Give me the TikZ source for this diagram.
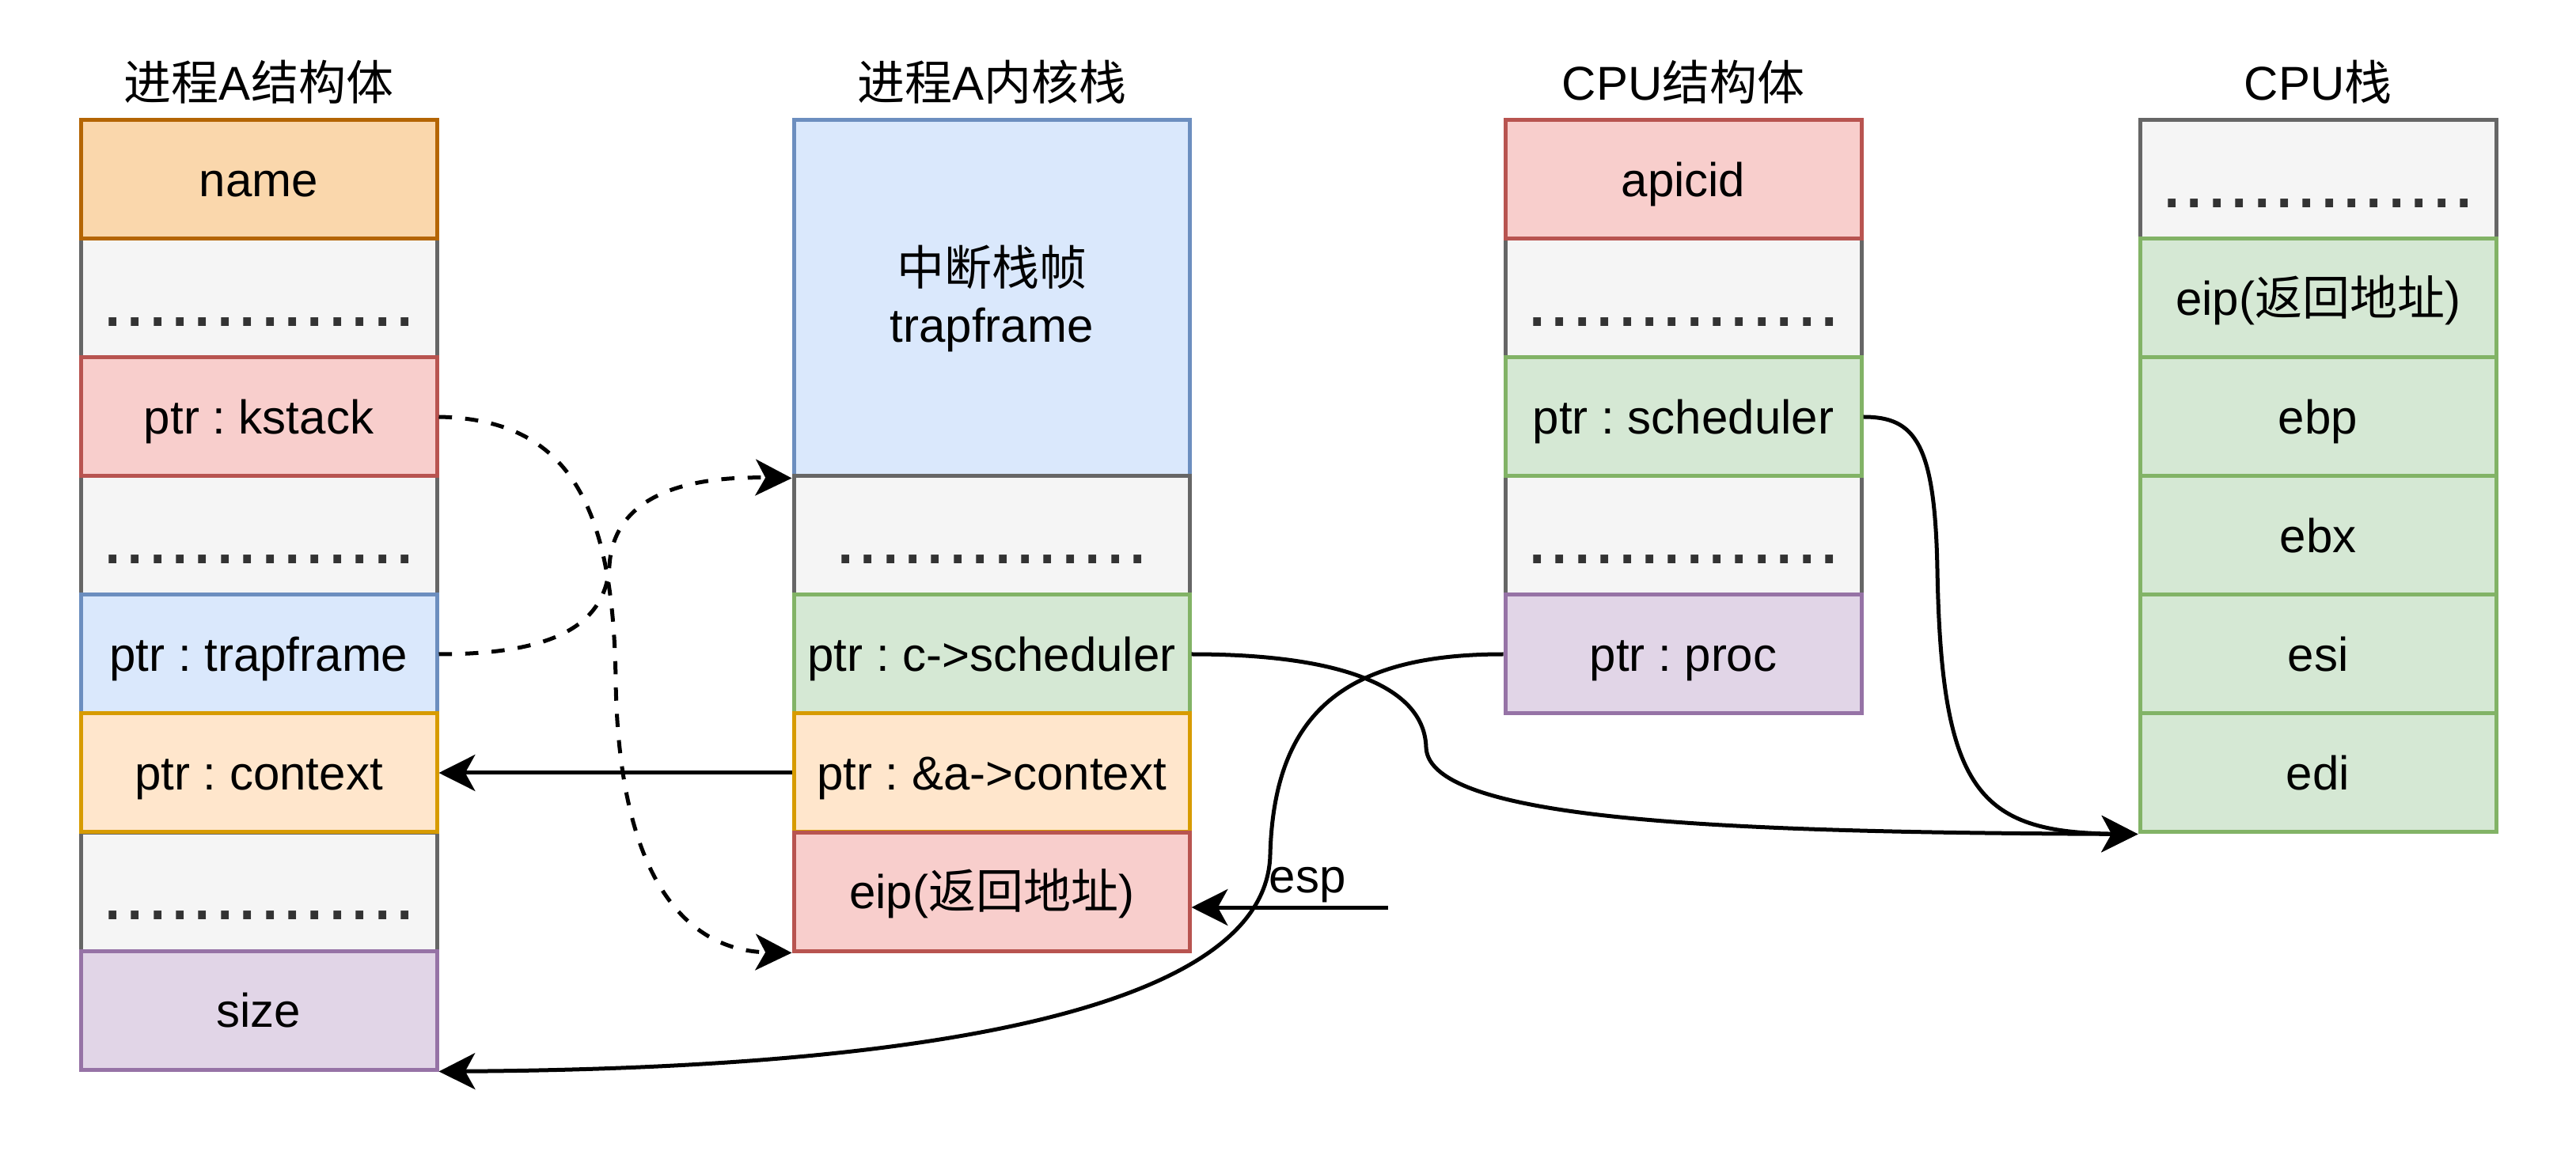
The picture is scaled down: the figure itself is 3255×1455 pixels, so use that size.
\documentclass[tikz,border=0pt]{standalone}
\usepackage{fontspec}
\setmainfont{Liberation Sans}
\newfontfamily\cjk{Noto Sans CJK SC}
\usetikzlibrary{arrows.meta}
\frenchspacing
\definecolor{oF}{HTML}{FAD7AC}\definecolor{oS}{HTML}{B46504}
\definecolor{gF}{HTML}{F5F5F5}\definecolor{gS}{HTML}{666666}
\definecolor{rF}{HTML}{F8CECC}\definecolor{rS}{HTML}{B85450}
\definecolor{bF}{HTML}{DAE8FC}\definecolor{bS}{HTML}{6C8EBF}
\definecolor{lF}{HTML}{FFE6CC}\definecolor{lS}{HTML}{D79B00}
\definecolor{pF}{HTML}{E1D5E7}\definecolor{pS}{HTML}{9673A6}
\definecolor{nF}{HTML}{D5E8D4}\definecolor{nS}{HTML}{82B366}
\definecolor{dotC}{HTML}{333333}
\tikzset{
  cellbox/.style={draw, line width=1.2pt, minimum width=108pt, minimum height=36pt, inner sep=0pt,
    font=\fontsize{14.4pt}{17.28pt}\selectfont, text height=13.5pt, text depth=3.05pt},
  widebox/.style={cellbox, minimum width=120pt},
  dotbox/.style={fill=gF, draw=gS, text=dotC, font=\fontsize{24.5pt}{29.4pt}\selectfont, text height=22pt, text depth=5.09pt},
  obox/.style={fill=oF, draw=oS},
  rbox/.style={fill=rF, draw=rS},
  bbox/.style={fill=bF, draw=bS},
  lbox/.style={fill=lF, draw=lS},
  pbox/.style={fill=pF, draw=pS},
  nbox/.style={fill=nF, draw=nS},
  titlelbl/.style={font=\fontsize{14.4pt}{17.28pt}\selectfont, inner sep=0pt},
  conn/.style={line width=1.2pt, -{Stealth[length=11pt, width=11pt, inset=3pt]}},
  dconn/.style={conn, dash pattern=on 4pt off 4pt},
}
\newcommand{\dotstext}{..............}
\begin{document}
\begin{tikzpicture}[x=0.24pt, y=-0.24pt]
\useasboundingbox (0,0) rectangle (3255,1455);
% titles
\node[titlelbl] (t1) at (327,104) {{\cjk 进程}A{\cjk 结构体}};
\node[titlelbl] (t2) at (1253,104) {{\cjk 进程}A{\cjk 内核栈}};
\node[titlelbl] (t3) at (2127,104) {CPU{\cjk 结构体}};
\node[titlelbl] (t4) at (2929,104) {CPU{\cjk 栈}};
% column 1
\node[cellbox, dotbox] (a1) at (327,377) {\dotstext};
\node[cellbox, dotbox] (a3) at (327,677) {\dotstext};
\node[cellbox, dotbox] (a6) at (327,1127) {\dotstext};
\node[cellbox, obox] (aname) at (327,227) {name};
\node[cellbox, rbox] (akstack) at (327,527) {ptr : kstack};
\node[cellbox, bbox] (atf) at (327,827) {ptr : trapframe};
\node[cellbox, lbox] (actx) at (327,977) {ptr : context};
\node[cellbox, pbox] (asize) at (327,1277) {size};
% column 2
\node[widebox, bbox, minimum height=108pt, text height=, text depth=, align=center] (btf) at (1253,377) {{\cjk 中断栈帧}\\trapframe};
\node[widebox, dotbox] (b3) at (1253,677) {\dotstext};
\node[widebox, nbox] (bsched) at (1253,827) {ptr : c->scheduler};
\node[widebox, lbox] (bctx) at (1253,977) {ptr : \&a->context};
\node[widebox, rbox] (beip) at (1253,1127) {eip({\cjk 返回地址})};
% column 3
\node[cellbox, dotbox] (c1) at (2127,377) {\dotstext};
\node[cellbox, dotbox] (c3) at (2127,677) {\dotstext};
\node[cellbox, rbox] (capic) at (2127,227) {apicid};
\node[cellbox, nbox] (csched) at (2127,527) {ptr : scheduler};
\node[cellbox, pbox] (cproc) at (2127,827) {ptr : proc};
% column 4
\node[cellbox, dotbox] (d0) at (2929,227) {\dotstext};
\node[cellbox, nbox] (deip) at (2929,377) {eip({\cjk 返回地址})};
\node[cellbox, nbox] (debp) at (2929,527) {ebp};
\node[cellbox, nbox] (debx) at (2929,677) {ebx};
\node[cellbox, nbox] (desi) at (2929,827) {esi};
\node[cellbox, nbox] (dedi) at (2929,977) {edi};
% connectors
\draw[dconn] (akstack.east) .. controls (720,530) and (775,640) .. (778,860)
   .. controls (782,1130) and (880,1202) .. (beip.south west);
\draw[dconn] (atf.east) .. controls (700,827) and (765,790) .. (770,715)
   .. controls (776,620) and (880,602) .. (btf.south west);
\draw[conn] (bctx.west) -- (actx.east);
\draw[conn] (bsched.east) .. controls (1700,827) and (1800,870) .. (1802,945)
   .. controls (1806,1040) and (2200,1052) .. (dedi.south west);
\draw[conn] (cproc.west) .. controls (1700,827) and (1610,900) .. (1605,1080)
   .. controls (1600,1330) and (900,1352) .. (asize.south east);
\draw[conn] (csched.east) .. controls (2420,527) and (2445,560) .. (2448,720)
   .. controls (2453,1000) and (2500,1052) .. (dedi.south west);
\coordinate (espstart) at (1754,1147);
\draw[conn] (espstart) -- (beip.east |- espstart);
\node[anchor=base, inner sep=0pt, font=\fontsize{14.4pt}{17.28pt}\selectfont] (esplbl) at (1652,1129) {esp};
\end{tikzpicture}
\end{document}
